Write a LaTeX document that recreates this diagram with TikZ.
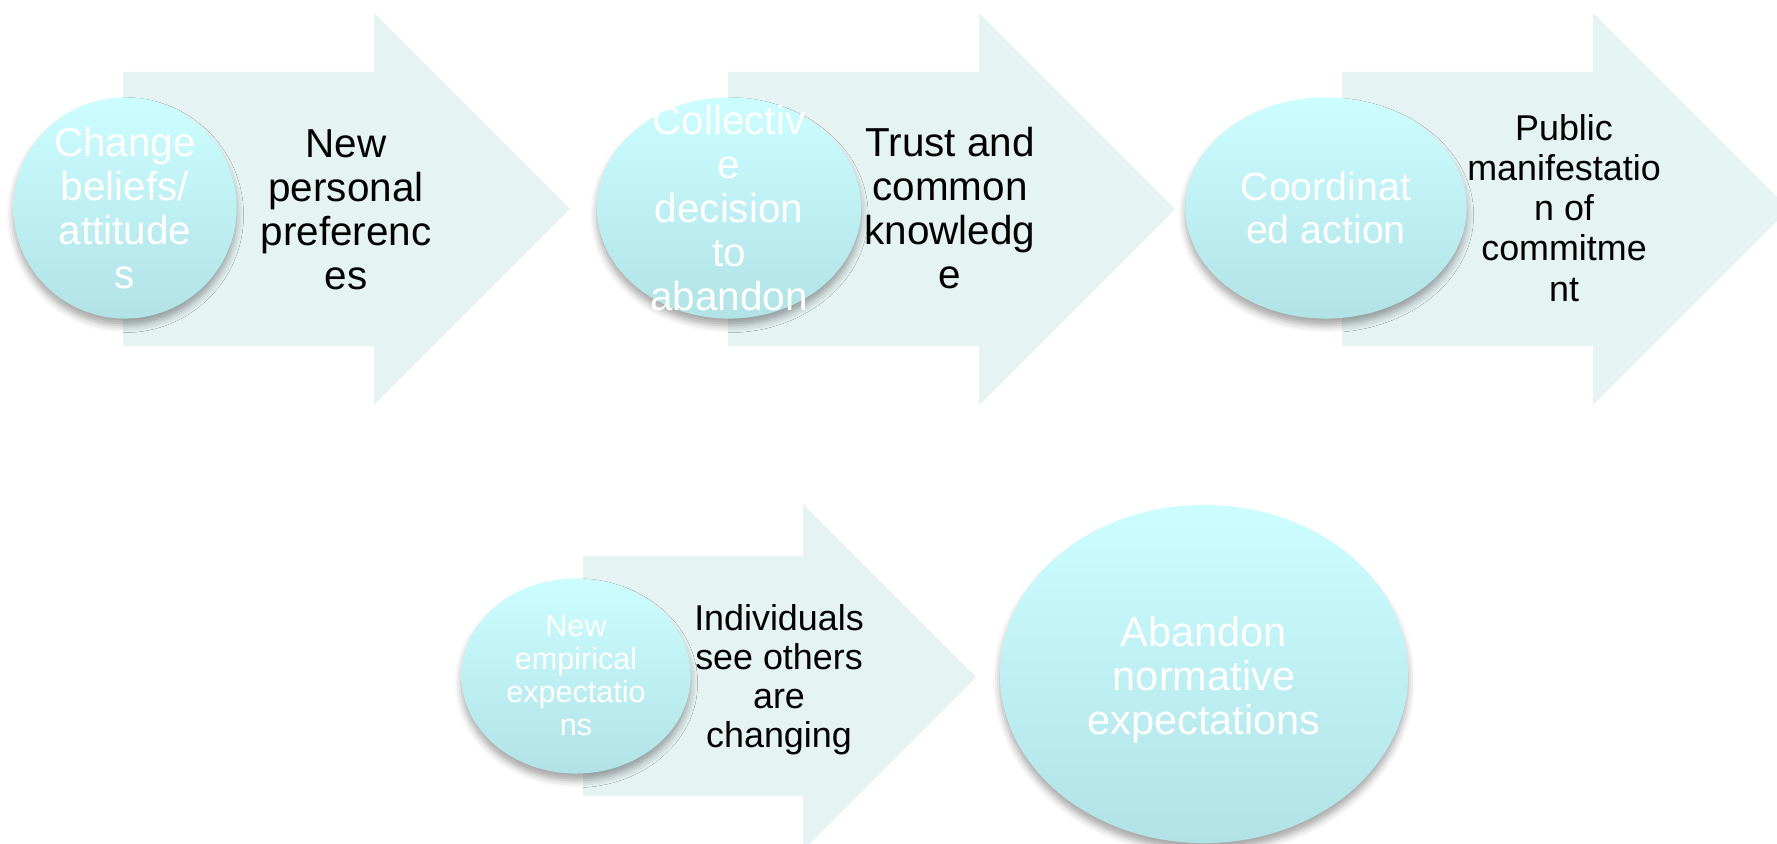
\documentclass[tikz,border=0pt]{standalone}
\usepackage{fontspec}
\setmainfont{Liberation Sans}
\usetikzlibrary{shapes.geometric, shadows.blur}
\definecolor{shaftfill}{HTML}{E6F3F3}
\definecolor{balltop}{HTML}{CCFDFF}
\definecolor{ballbottom}{HTML}{B1E2E6}
\tikzset{
    shaft/.style    = {fill=shaftfill, draw=none},
    ball/.style     = {ellipse, inner sep=0pt, draw=none, top color=balltop, bottom color=ballbottom, blur shadow={shadow xshift=0pt, shadow yshift=-2pt, shadow blur radius=2pt, shadow opacity=35}},
    balltext/.style = {align=center, text=white, inner sep=0pt},
    steptext/.style = {align=center, text=black, inner sep=0pt},
}

\begin{document}
\begin{tikzpicture}[x=0.01cm, y=-0.01cm]
  \useasboundingbox (0,0) rectangle (1777,843);
  \clip (0,0) rectangle (1777,843);
  \foreach \x in {123,728,1342}
    \fill[shaft] (\x,72) -- (\x+251,72) -- (\x+251,13) -- (\x+447,209) -- (\x+251,405) -- (\x+251,346) -- (\x,346) -- cycle;
  \fill[shaft] (583,556) -- (803,556) -- (803,504) -- (976,677) -- (803,850) -- (803,796) -- (583,796) -- cycle;

  \node[ball, minimum width=2.23cm, minimum height=2.21cm] (change) at (125,208) {};
  \node[ball, minimum width=2.64cm, minimum height=2.21cm] (collective) at (729,208) {};
  \node[ball, minimum width=2.81cm, minimum height=2.21cm] (coordinated) at (1326,208) {};
  \node[ball, minimum width=2.29cm, minimum height=1.95cm] (empirical) at (576,676) {};
  \node[ball, minimum width=4.08cm, minimum height=3.38cm] (abandon) at (1204,674) {};

  \node[balltext, font=\fontsize{11.5}{12.5}\selectfont] (change txt) at (change) {Change\\beliefs/\\attitude\\s};
  \node[balltext, font=\fontsize{11.5}{12.5}\selectfont] (collective txt) at (collective) {Collectiv\\e\\decision\\to\\abandon};
  \node[balltext, font=\fontsize{11.2}{12.2}\selectfont] (coordinated txt) at (coordinated) {Coordinat\\ed action};
  \node[balltext, font=\fontsize{8.7}{9.4}\selectfont] (empirical txt) at (empirical) {New\\empirical\\expectatio\\ns};
  \node[balltext, font=\fontsize{11.8}{12.5}\selectfont] (abandon txt) at (1204,680) {Abandon\\normative\\expectations};

  \node[steptext, font=\fontsize{11.5}{12.5}\selectfont] (preferences) at (346,210) {New\\personal\\preferenc\\es};
  \node[steptext, font=\fontsize{11.5}{12.5}\selectfont] (knowledge) at (950,208) {Trust and\\common\\knowledg\\e};
  \node[steptext, font=\fontsize{10.2}{11.4}\selectfont] (commitment) at (1564,208) {Public\\manifestatio\\n of\\commitme\\nt};
  \node[steptext, font=\fontsize{10.2}{11.1}\selectfont] (others) at (779,680) {Individuals\\see others\\are\\changing};
\end{tikzpicture}
\end{document}
